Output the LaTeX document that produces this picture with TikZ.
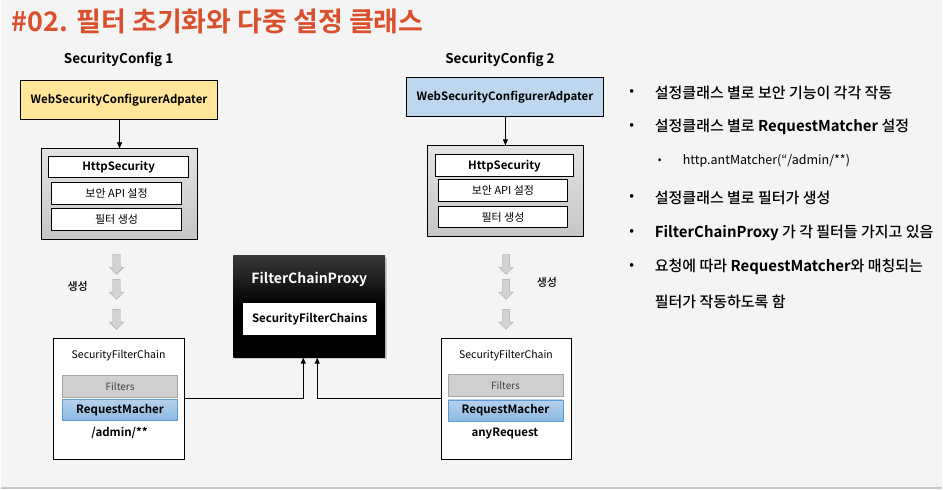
\documentclass[tikz,border=0pt]{standalone}
\usepackage{fontspec}
\setmainfont{Noto Sans CJK KR}[BoldFont={Noto Sans CJK KR Bold}]
\newfontfamily\notefont{Noto Sans CJK KR Medium}[BoldFont={Noto Sans CJK KR Bold}]
\usetikzlibrary{positioning, arrows.meta, shapes.arrows, shadows}
\definecolor{titlered}{RGB}{218,80,44}
\definecolor{pagebg}{RGB}{244,244,244}
\definecolor{cfgyellow}{RGB}{255,230,153}
\definecolor{cfgblue}{RGB}{189,215,238}
\definecolor{rmblue}{RGB}{91,155,213}
\tikzset{
x=1pt, y=-1pt, % one unit is one pixel of the slide, y runs down
every node/.style={inner sep=0pt, font=\fontsize{11}{13}\selectfont},
arr/.style={-{Triangle[length=6pt,width=5pt]}, line width=0.8pt}, % the thin black connectors
cfgbox/.style={draw, line width=0.9pt, minimum width=197pt, minimum height=39pt, font=\fontsize{11.5}{13}\selectfont\bfseries},
httpbox/.style={draw, line width=0.9pt, top color=gray!22, bottom color=gray!45, minimum width=156pt, minimum height=91pt},
whitebox/.style={draw, line width=0.8pt, fill=white, minimum width=130pt, minimum height=22pt},
chainbox/.style={draw, line width=0.9pt, fill=white, minimum width=131pt, minimum height=121pt},
filterbox/.style={draw=gray!70, fill=gray!38, minimum width=115pt, minimum height=22pt, font=\fontsize{10}{12}\selectfont\color{black!75}},
matchbox/.style={draw=rmblue, top color=rmblue!45, bottom color=rmblue!70, minimum width=115pt, minimum height=21pt, font=\fontsize{11.5}{13}\selectfont\bfseries},
grayarrow/.style={single arrow, shape border rotate=270, draw=gray!65, fill=gray!35, inner sep=3.5pt, single arrow head extend=3.5pt, minimum height=20pt}, % the block arrows for "created"
bullet/.style={font=\fontsize{14}{16}\selectfont},
bullettext/.style={anchor=west, font=\notefont\fontsize{15}{17}\selectfont},
}

\begin{document}
\begin{tikzpicture}
       \fill[pagebg] (0,0) rectangle (943,490);
       \draw[gray!45, line width=1.5pt] (0,489) -- (943,489);
       \useasboundingbox (0,0) rectangle (943,490);

       \node[anchor=west, text=titlered, font=\fontsize{27}{31}\selectfont\bfseries] (title) at (11,21) {\#02. 필터 초기화와 다중 설정 클래스};

       % left configuration
       \node[font=\fontsize{13.5}{15}\selectfont\bfseries] (cfgname1) at (118,60) {SecurityConfig 1};
       \node[cfgbox, fill=cfgyellow] (adapter1) at (118.5,100.5) {WebSecurityConfigurerAdpater};
       \node[httpbox] (http1) at (119,194.5) {};
       \node[whitebox, minimum width=140pt, minimum height=21pt, font=\fontsize{11.5}{13}\selectfont\bfseries] (hsec1) at (118,167.5) {HttpSecurity};
       \node[whitebox] (api1) at (116,194) {보안 API 설정};
       \node[whitebox] (make1) at (116,220) {필터 생성};

       \node[grayarrow] (down1a) at (116,263) {};
       \node[grayarrow] (down1b) at (116,288) {};
       \node[grayarrow] (down1c) at (116,318) {};
       \node[font=\notefont\fontsize{11}{13}\selectfont] (created1) at (77,287) {생성};

       \node[chainbox] (chain1) at (118.5,399.5) {};
       \node[font=\fontsize{10.5}{12}\selectfont] (chainname1) at (118,356) {SecurityFilterChain};
       \node[filterbox] (filters1) at (119.5,387) {Filters};
       \node[matchbox] (match1) at (119.5,410.5) {RequestMacher};
       \node[font=\fontsize{11.5}{13}\selectfont\bfseries] (pattern1) at (119,434) {/admin/**};

       % right configuration
       \node[font=\fontsize{13.5}{15}\selectfont\bfseries] (cfgname2) at (500,60) {SecurityConfig 2};
       \node[cfgbox, fill=cfgblue] (adapter2) at (505,97.5) {WebSecurityConfigurerAdpater};
       \node[httpbox, minimum width=157pt] (http2) at (505.5,191.5) {};
       \node[whitebox, minimum width=139pt, font=\fontsize{11.5}{13}\selectfont\bfseries] (hsec2) at (504.5,166) {HttpSecurity};
       \node[whitebox] (api2) at (503,191) {보안 API 설정};
       \node[whitebox, minimum height=21pt] (make2) at (503,217.5) {필터 생성};

       \node[grayarrow] (down2a) at (506,263) {};
       \node[grayarrow] (down2b) at (506,288) {};
       \node[grayarrow] (down2c) at (506,318) {};
       \node[font=\notefont\fontsize{11}{13}\selectfont] (created2) at (547,283) {생성};

       \node[chainbox] (chain2) at (506.5,399.5) {};
       \node[font=\fontsize{10.5}{12}\selectfont] (chainname2) at (506,356) {SecurityFilterChain};
       \node[filterbox] (filters2) at (505.5,386) {Filters};
       \node[matchbox] (match2) at (505.5,411) {RequestMacher};
       \node[font=\fontsize{11.5}{13}\selectfont\bfseries] (pattern2) at (505,434) {anyRequest};

       % the proxy in the middle
       \node[minimum width=152pt, minimum height=102pt, top color=black!78, bottom color=black, middle color=black,
             drop shadow={opacity=0.35, shadow xshift=2pt, shadow yshift=-2pt}] (proxy) at (309,307) {};
       \node[text=white, font=\fontsize{14}{16}\selectfont\bfseries] (proxyname) at (309,280) {FilterChainProxy};
       \node[fill=white, minimum width=133pt, minimum height=33pt, font=\fontsize{11.5}{13}\selectfont\bfseries] (chains) at (309.5,319.5) {SecurityFilterChains};

       % notes on the right
       \node[bullet] (d1) at (632,93) {•};
       \node[bullettext] (t1) at (655,93) {설정클래스 별로 보안 기능이 각각 작동};
       \node[bullet] (d2) at (632,127) {•};
       \node[bullettext] (t2) at (655,127) {설정클래스 별로 \textbf{RequestMatcher} 설정};
       \node[bullet, font=\fontsize{11}{13}\selectfont] (d3) at (660,161) {•};
       \node[anchor=west, font=\fontsize{12.5}{14}\selectfont] (t3) at (683,161) {http.antMatcher(“/admin/**)};
       \node[bullet] (d4) at (632,198) {•};
       \node[bullettext] (t4) at (655,198) {설정클래스 별로 필터가 생성};
       \node[bullet] (d5) at (632,233) {•};
       \node[bullettext] (t5) at (655,233) {\textbf{FilterChainProxy} 가 각 필터들 가지고 있음};
       \node[bullet] (d6) at (632,267) {•};
       \node[bullettext] (t6) at (655,267) {요청에 따라 \textbf{RequestMatcher}와 매칭되는};
       \node[bullettext] (t7) at (655,302) {필터가 작동하도록 함};

     \draw[arr] (adapter1.south -| http1.north) -- (http1.north);
     \draw[arr] (adapter2.south -| http2.north) -- (http2.north);
     \draw[arr] (chain1.east) -| ([xshift=-6pt]proxy.south);
     \draw[arr] (chain2.west) -| ([xshift=8pt]proxy.south);

  \end{tikzpicture}
\end{document}
